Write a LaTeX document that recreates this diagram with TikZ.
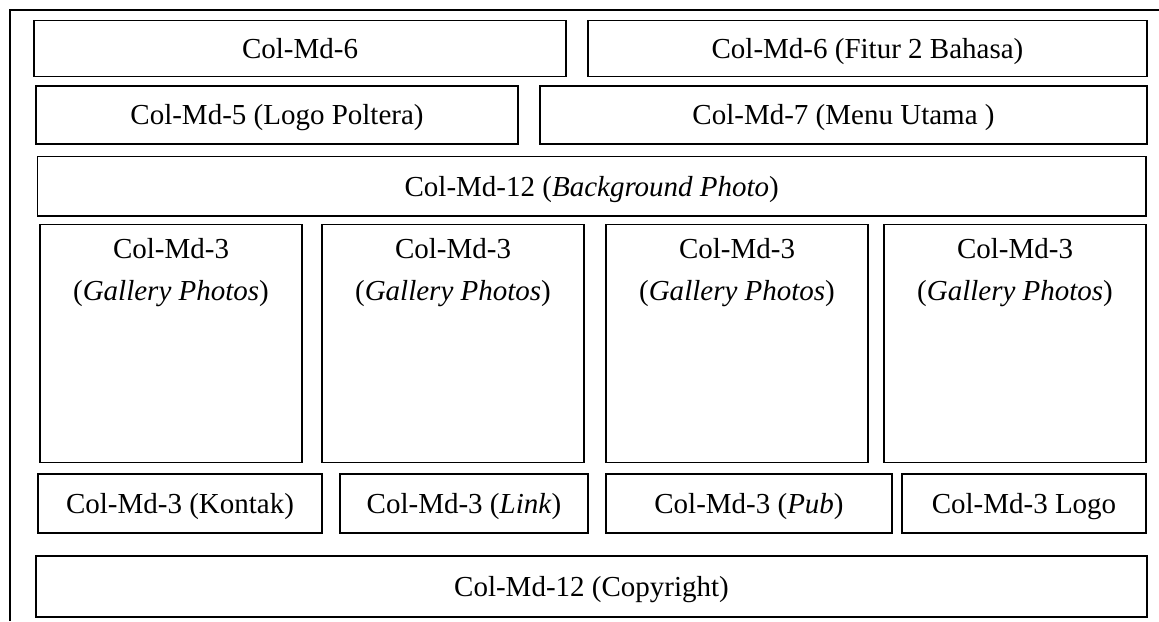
\documentclass[tikz,border=0pt]{standalone}
\usepackage{fontspec}
\setmainfont{Liberation Serif}
\usepackage{tikz}
\usetikzlibrary{positioning}

\begin{document}
\begin{tikzpicture}[x=1pt,y=-1pt,thick]
  \tikzstyle{panel}=[rectangle,draw,line width=1.1pt,inner sep=0pt,align=center,text height=22pt,text depth=2.5pt,font=\fontsize{29}{34}\selectfont]
  \tikzstyle{gallery}=[panel,minimum width=262,minimum height=238]
  \tikzstyle{caption}=[anchor=north,inner sep=0pt,align=center,font=\fontsize{29}{42}\selectfont]

  \useasboundingbox (0,0) rectangle (1159,621);

  % outer frame
  \coordinate (frameBL) at (10,621);
  \coordinate (frameTR) at (1159,10);
  \draw[line width=1.3pt] (frameBL) |- (frameTR);

  % header
  \node[panel,minimum width=532,minimum height=56] (md6a) at (300,48.5) {Col-Md-6};
  \node[panel,minimum width=559,minimum height=56] (md6b) at (867.5,48.5) {Col-Md-6 (Fitur 2 Bahasa)};
  \node[panel,minimum width=482,minimum height=58] (md5) at (277,115) {Col-Md-5 (Logo Poltera)};
  \node[panel,minimum width=607,minimum height=58] (md7) at (843.5,115) {Col-Md-7 (Menu Utama )};
  \node[panel,minimum width=1108.5,minimum height=59.5] (bg) at (591.75,186.25) {Col-Md-12 (\textit{Background Photo})};

  % gallery
  \node[gallery] (g1) at (171,343.5) {};
  \node[gallery] (g2) at (453,343.5) {};
  \node[gallery] (g3) at (737,343.5) {};
  \node[gallery] (g4) at (1015,343.5) {};
  \foreach \g in {g1,g2,g3,g4}
    \node[caption,below=14pt of \g.north] (\g-text) {Col-Md-3\\(\textit{Gallery Photos})};

  % footer
  \node[panel,minimum width=284,minimum height=59] (kontak) at (180,503.5) {Col-Md-3 (Kontak)};
  \node[panel,minimum width=248,minimum height=59] (link) at (464,503.5) {Col-Md-3 (\textit{Link})};
  \node[panel,minimum width=286,minimum height=59] (pub) at (749,503.5) {Col-Md-3 (\textit{Pub})};
  \node[panel,minimum width=244,minimum height=59] (logo) at (1024,503.5) {Col-Md-3 Logo};
  \node[panel,minimum width=1111,minimum height=61] (copy) at (591.5,586.5) {Col-Md-12 (Copyright)};
\end{tikzpicture}
\end{document}
